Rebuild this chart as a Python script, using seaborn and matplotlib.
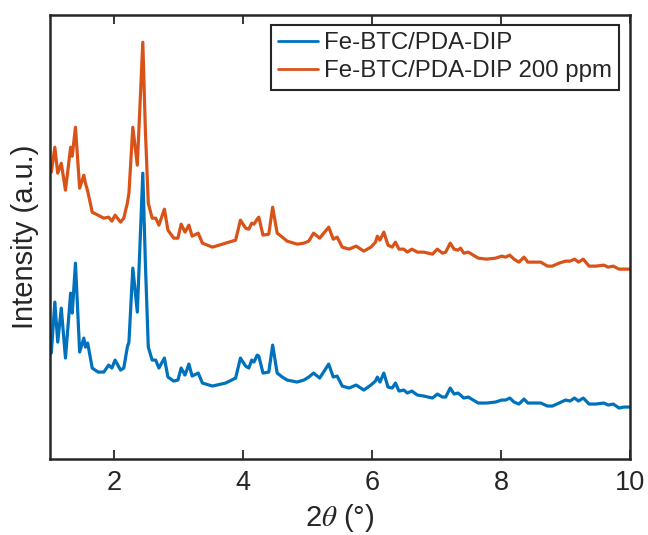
"""
plot.py
-------
PXRD patterns of Fe-BTC/PDA-DIP before and after exposure (200 ppm).
"""

import matplotlib
matplotlib.use("Agg")
import matplotlib.pyplot as plt
import seaborn as sns
import pandas as pd

# 2theta (deg)
two_theta = [
    1.02, 1.075, 1.12, 1.175, 1.24, 1.32, 1.345, 1.395, 1.46, 1.525,
    1.55, 1.585, 1.655, 1.745, 1.835, 1.91, 1.96, 2.01, 2.095, 2.145,
    2.2, 2.225, 2.285, 2.355, 2.44, 2.48, 2.525, 2.585, 2.64, 2.69,
    2.775, 2.83, 2.92, 2.985, 3.035, 3.095, 3.155, 3.205, 3.3, 3.365,
    3.52, 3.725, 3.88, 3.955, 4.035, 4.085, 4.13, 4.165, 4.215, 4.24,
    4.305, 4.395, 4.455, 4.525, 4.605, 4.68, 4.835, 4.94, 5.015, 5.09,
    5.185, 5.325, 5.395, 5.455, 5.535, 5.64, 5.75, 5.87, 5.98, 6.05,
    6.08, 6.12, 6.18, 6.245, 6.31, 6.36, 6.415, 6.49, 6.545, 6.615,
    6.7, 6.8, 6.935, 7.01, 7.09, 7.14, 7.21, 7.27, 7.33, 7.37,
    7.42, 7.49, 7.645, 7.775, 7.915, 8.01, 8.07, 8.135, 8.2, 8.277,
    8.355, 8.415, 8.51, 8.615, 8.72, 8.795, 8.9, 9.0, 9.07, 9.14,
    9.2, 9.275, 9.365, 9.47, 9.595, 9.66, 9.74, 9.83, 9.905, 10.0,
]

# Fe-BTC/PDA-DIP (a.u.)
intensity_pristine = [
    108, 159, 119, 153, 103, 168, 148, 198, 109, 123,
    114, 118, 93, 89, 89, 96, 93, 101, 91, 93,
    114, 119, 193, 149, 288, 198, 114, 101, 101, 93,
    103, 84, 80, 81, 93, 86, 97, 85, 88, 78,
    75, 78, 83, 103, 95, 93, 101, 99, 106, 105,
    88, 89, 116, 88, 84, 81, 79, 81, 84, 88,
    83, 97, 84, 85, 75, 73, 76, 71, 76, 80,
    84, 79, 88, 74, 73, 78, 70, 71, 68, 70,
    66, 65, 63, 67, 64, 64, 73, 67, 68, 66,
    63, 64, 58, 58, 59, 61, 61, 63, 59, 57,
    62, 58, 58, 58, 55, 55, 58, 61, 60, 63,
    60, 63, 57, 57, 58, 56, 57, 53, 54, 54,
]

# Fe-BTC/PDA-DIP 200 ppm (a.u., offset trace)
intensity_200ppm = [
    289, 314, 288, 298, 271, 314, 305, 334, 273, 286,
    278, 270, 249, 246, 243, 244, 240, 246, 239, 243,
    258, 268, 334, 296, 419, 331, 258, 243, 243, 236,
    252, 231, 223, 223, 237, 229, 236, 225, 228, 218,
    214, 218, 221, 241, 233, 232, 238, 237, 242, 244,
    226, 227, 254, 228, 224, 220, 217, 218, 220, 228,
    223, 234, 222, 224, 214, 212, 215, 210, 214, 219,
    225, 221, 229, 216, 214, 219, 212, 212, 209, 212,
    209, 209, 207, 212, 208, 209, 218, 212, 211, 213,
    208, 209, 203, 202, 203, 205, 204, 206, 202, 199,
    204, 199, 199, 199, 195, 195, 198, 200, 200, 202,
    199, 202, 195, 195, 196, 194, 195, 192, 192, 192,
]

labels = ["Fe-BTC/PDA-DIP", "Fe-BTC/PDA-DIP 200 ppm"]
colors = ["#0072BD", "#D95319"]
x_ticks = [2, 4, 6, 8, 10]

df = pd.concat([
    pd.DataFrame({"two_theta": two_theta, "intensity": intensity_pristine, "sample": labels[0]}),
    pd.DataFrame({"two_theta": two_theta, "intensity": intensity_200ppm, "sample": labels[1]}),
])

sns.set_theme(style="white")
plt.rcParams["font.family"] = ["Liberation Sans", "DejaVu Sans"]
plt.rcParams["mathtext.fontset"] = "stix"

dark = "#262626"
fig = plt.figure(figsize=(6.48, 5.35), dpi=100)
ax = fig.add_axes([50 / 648, 1 - 459 / 535, 580 / 648, 443.7 / 535])

sns.lineplot(data=df, x="two_theta", y="intensity", hue="sample",
             palette=colors, linewidth=2.3, estimator=None, sort=False, ax=ax)

ax.set_xlim(1, 10)
ax.set_ylim(2, 446)
ax.set_xticks(x_ticks)
ax.set_xticklabels([str(t) for t in x_ticks])
ax.set_yticks([])
ax.tick_params(axis="x", direction="in", top=True, bottom=True, length=6.5,
               width=1.3, color=dark, labelsize=19.5, labelcolor=dark, pad=8)
for sp in ax.spines.values():
    sp.set_visible(True)
    sp.set_color(dark)
    sp.set_linewidth(1.8)

ax.set_xlabel(r"2$\theta$ (°)", fontsize=21, color=dark, labelpad=4)
ax.set_ylabel("Intensity (a.u.)", fontsize=21, color=dark, labelpad=8)

handles, _ = ax.get_legend_handles_labels()
leg = ax.legend(handles, labels, loc="upper right", bbox_to_anchor=(0.9816, 0.9775),
                borderaxespad=0, fontsize=17.3, frameon=True, fancybox=False,
                edgecolor=dark, framealpha=1, handlelength=1.67,
                handletextpad=0.25, borderpad=0.3, labelspacing=0.25)
leg.get_frame().set_linewidth(1.5)
for line in leg.get_lines():
    line.set_linewidth(2.0)

fig.savefig("out.png", dpi=100)
plt.close(fig)
